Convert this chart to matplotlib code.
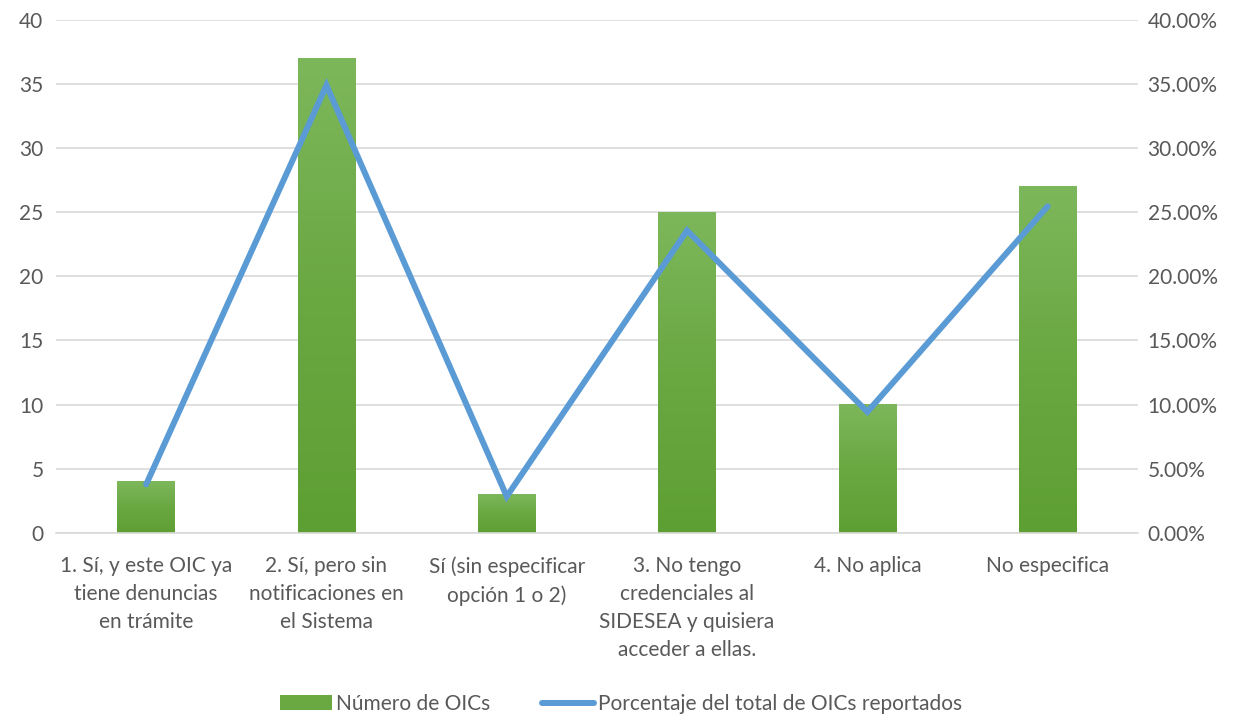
import numpy as np
import matplotlib.pyplot as plt
from matplotlib.colors import LinearSegmentedColormap
from matplotlib.patches import Patch
from matplotlib.lines import Line2D

categories = ["1. Sí, y este OIC ya\ntiene denuncias\nen trámite",
              "2. Sí, pero sin\nnotificaciones en\nel Sistema",
              "Sí (sin especificar\nopción 1 o 2)",
              "3. No tengo\ncredenciales al\nSIDESEA y quisiera\nacceder a ellas.",
              "4. No aplica",
              "No especifica"]
counts = [4, 37, 3, 25, 10, 27]
percents = [3.77, 34.91, 2.83, 23.58, 9.43, 25.47]

plt.rcParams['font.family'] = ['Lato', 'DejaVu Sans']
txt = '#595959'
fs = 15

fig = plt.figure(figsize=(12.42, 7.17), dpi=100)
ax = fig.add_axes([0.0451, 0.257, 0.871, 0.715])
ax2 = ax.twinx()

x = np.arange(len(categories))
width = 0.32
green = LinearSegmentedColormap.from_list('g', ['#5e9f33', '#6aa842', '#7db75b'])
grad = np.linspace(0, 1, 256).reshape(-1, 1)
bars = ax.bar(x, counts, width, color='none', zorder=2)
for b in bars:
    x0, y0 = b.get_x(), b.get_y()
    ax.imshow(grad, cmap=green, origin='lower', aspect='auto', zorder=2,
              extent=[x0, x0 + b.get_width(), y0, y0 + b.get_height()])

ax.set_xlim(-0.5, len(categories) - 0.5)
ax.set_ylim(0, 40)
ax.set_yticks(range(0, 41, 5))
ax.yaxis.grid(True, color='#d9d9d9', linewidth=1.2, zorder=0)
ax.set_axisbelow(True)
ax.set_xticks(x)
ax.set_xticklabels(categories, fontsize=fs, color=txt, linespacing=1.5)
ax.tick_params(axis='x', length=0, labelsize=fs, colors=txt, pad=17)
ax.tick_params(axis='y', length=0, labelsize=fs, colors=txt, pad=9)
for s in ['top', 'left', 'right']:
    ax.spines[s].set_visible(False)
ax.spines['bottom'].set_color('#d9d9d9')
ax.spines['bottom'].set_linewidth(1.2)

ax2.plot(x, percents, color='#5b9bd5', linewidth=4.3, solid_capstyle='round',
         solid_joinstyle='miter', zorder=3)
ax2.set_ylim(0, 40)
ax2.set_yticks(range(0, 41, 5))
ax2.set_yticklabels([f"{v:.2f}%" for v in range(0, 41, 5)])
ax2.tick_params(axis='y', length=0, labelsize=fs, colors=txt, pad=7)
for s in ax2.spines.values():
    s.set_visible(False)

handles = [Patch(facecolor='#6aa842', label='Número de OICs'),
           Line2D([0], [0], color='#5b9bd5', linewidth=4.3, solid_capstyle='round',
                  label='Porcentaje del total de OICs reportados')]
fig.legend(handles=handles, loc='lower center', bbox_to_anchor=(0.5, -0.022), ncol=2,
           frameon=False, fontsize=fs, labelcolor=txt, handlelength=2.5,
           handletextpad=0.2, columnspacing=2.5)

fig.savefig('out.png', dpi=100)
